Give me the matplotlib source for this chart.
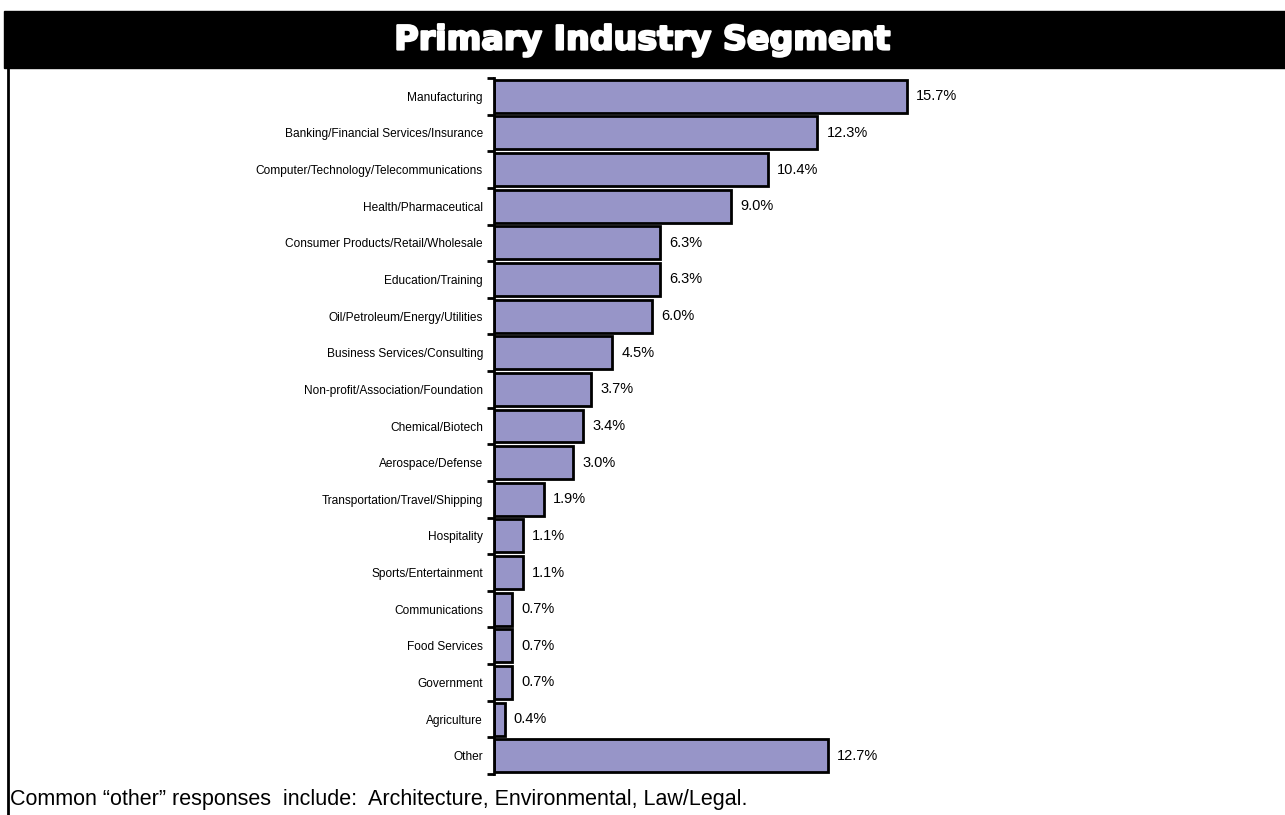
import matplotlib.pyplot as plt
import matplotlib.patheffects as pe
from matplotlib.patches import Rectangle
from matplotlib.lines import Line2D
from matplotlib.ticker import FixedLocator

plt.rcParams['font.family'] = ['Liberation Sans', 'DejaVu Sans']

segments = ["Manufacturing", "Banking/Financial Services/Insurance",
            "Computer/Technology/Telecommunications", "Health/Pharmaceutical",
            "Consumer Products/Retail/Wholesale", "Education/Training",
            "Oil/Petroleum/Energy/Utilities", "Business Services/Consulting",
            "Non-profit/Association/Foundation", "Chemical/Biotech",
            "Aerospace/Defense", "Transportation/Travel/Shipping",
            "Hospitality", "Sports/Entertainment", "Communications",
            "Food Services", "Government", "Agriculture", "Other"]
pct = [15.7, 12.3, 10.4, 9.0, 6.3, 6.3, 6.0, 4.5, 3.7, 3.4, 3.0, 1.9,
       1.1, 1.1, 0.7, 0.7, 0.7, 0.4, 12.7]

W, H = 1285, 815
fig = plt.figure(figsize=(W / 100, H / 100), dpi=100)

# black title band + left frame line
fig.patches.append(Rectangle((4 / W, 1 - 68 / H), 1 - 4 / W, 57 / H,
                             transform=fig.transFigure, color='black', zorder=0))
fig.lines.append(Line2D([8 / W, 8 / W], [0, 1 - 68 / H], transform=fig.transFigure,
                        color='black', lw=2))
fig.text(0.5, 1 - 40 / H, "Primary Industry Segment", color='white',
         fontsize=24, fontweight='bold', ha='center', va='center',
         family=['DejaVu Sans'],
         path_effects=[pe.withStroke(linewidth=1.6, foreground='white')])

ax = fig.add_axes([494 / W, 1 - 774 / H, (1280 - 494) / W, 696 / H])
y = list(range(len(segments)))
ax.barh(y, pct, height=0.9, color='#9795C8', edgecolor='black', linewidth=2)
for yi, v in zip(y, pct):
    ax.text(v + 0.35, yi, f"{v:.1f}%", va='center', ha='left', fontsize=10.5)

ax.set_xlim(0, (1280 - 494) / 26.3)
ax.set_ylim(len(segments) - 0.5, -0.5)
ax.set_yticks(y)
ax.set_yticklabels(segments, fontsize=8.6)
ax.yaxis.set_minor_locator(FixedLocator([i - 0.5 for i in range(len(segments) + 1)]))
ax.tick_params(axis='y', which='major', length=0, pad=8)
ax.tick_params(axis='y', which='minor', length=5, width=2, direction='out')
ax.set_xticks([])
for s in ['top', 'right', 'bottom']:
    ax.spines[s].set_visible(False)
ax.spines['left'].set_linewidth(2)

fig.text(10 / W, 1 - 799 / H,
         "Common \u201cother\u201d responses  include:  Architecture, Environmental, Law/Legal.",
         fontsize=15.5, ha='left', va='center')

fig.savefig("out.png", dpi=100)
